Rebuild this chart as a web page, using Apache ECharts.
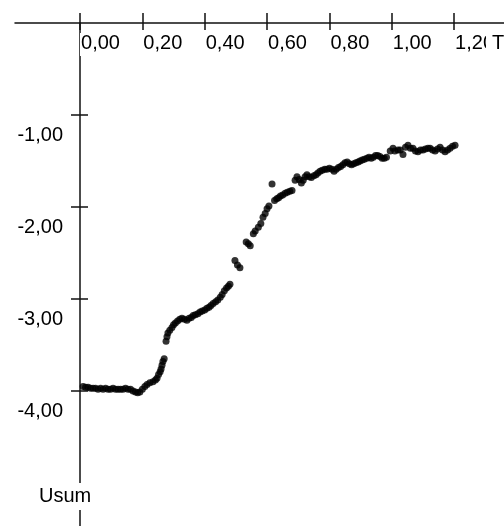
<!DOCTYPE html>
<html><head><meta charset="utf-8">
<script src="https://cdn.jsdelivr.net/npm/echarts@6/dist/echarts.min.js"></script>
<style>html,body{margin:0;padding:0;background:#fff}#c{width:504px;height:526px}</style>
</head><body><div id="c"></div>
<script>
const xTicks = [0, 0.2, 0.4, 0.6, 0.8, 1.0, 1.2];
const yTicks = [-1, -2, -3, -4];
const xName = 'T';
const yName = 'Usum';
const xValues = [
0.010,0.018,0.026,0.034,0.042,0.050,0.058,0.066,0.074,0.082,0.090,0.098,0.106,0.114,0.122,0.130,0.138,0.146,0.154,0.162,
0.170,0.178,0.185,0.192,0.200,0.208,0.215,0.224,0.234,0.242,0.247,0.252,0.257,0.260,0.263,0.266,0.270,
0.276,0.279,0.282,0.288,0.295,0.300,0.306,0.313,0.320,0.327,0.335,0.343,0.350,0.357,0.363,0.370,0.378,0.385,0.392,
0.400,0.407,0.414,0.420,0.427,0.435,0.442,0.450,0.456,0.463,0.470,0.476,0.481,
0.497,0.505,0.513,0.533,0.540,0.546,0.556,0.562,0.572,0.580,0.587,0.594,0.600,0.606,0.616,
0.624,0.631,0.637,0.643,0.650,0.658,0.665,0.673,0.680,0.690,0.696,0.703,0.710,0.716,0.722,0.728,0.735,0.742,0.750,
0.757,0.763,0.770,0.777,0.785,0.792,0.800,0.808,0.815,0.822,0.829,0.836,0.843,0.850,0.857,0.864,0.871,0.878,0.885,
0.892,0.898,0.905,0.912,0.920,0.927,0.934,0.941,0.948,0.955,0.962,0.969,0.976,0.983,0.995,1.004,1.010,1.020,1.027,
1.036,1.044,1.052,1.060,1.068,1.076,1.084,1.092,1.100,1.108,1.116,1.123,1.131,1.139,1.147,1.155,1.163,1.171,1.179,
1.187,1.195,1.203
];
const yValues = [
-3.95,-3.96,-3.96,-3.97,-3.97,-3.97,-3.98,-3.97,-3.98,-3.97,-3.98,-3.98,-3.97,-3.98,-3.98,-3.98,-3.98,-3.97,-3.98,-3.98,
-4.00,-4.01,-4.02,-4.01,-3.98,-3.95,-3.93,-3.91,-3.90,-3.88,-3.86,-3.82,-3.79,-3.76,-3.72,-3.68,-3.65,
-3.46,-3.41,-3.37,-3.34,-3.31,-3.28,-3.26,-3.24,-3.22,-3.21,-3.22,-3.23,-3.21,-3.20,-3.18,-3.17,-3.16,-3.14,-3.13,
-3.12,-3.10,-3.09,-3.07,-3.05,-3.03,-3.01,-2.98,-2.95,-2.91,-2.88,-2.86,-2.84,
-2.58,-2.63,-2.66,-2.38,-2.40,-2.42,-2.29,-2.26,-2.22,-2.18,-2.11,-2.07,-2.02,-1.99,-1.75,
-1.93,-1.91,-1.90,-1.88,-1.87,-1.85,-1.84,-1.83,-1.82,-1.71,-1.67,-1.70,-1.74,-1.71,-1.67,-1.65,-1.67,-1.68,-1.66,
-1.65,-1.63,-1.61,-1.60,-1.59,-1.59,-1.58,-1.59,-1.61,-1.59,-1.57,-1.56,-1.54,-1.52,-1.51,-1.53,-1.54,-1.53,-1.52,
-1.51,-1.50,-1.49,-1.48,-1.47,-1.46,-1.47,-1.46,-1.44,-1.44,-1.45,-1.47,-1.47,-1.46,-1.39,-1.36,-1.39,-1.38,-1.38,
-1.43,-1.35,-1.33,-1.36,-1.36,-1.39,-1.40,-1.38,-1.38,-1.37,-1.36,-1.36,-1.38,-1.39,-1.37,-1.35,-1.38,-1.40,-1.38,
-1.36,-1.34,-1.33
];
const data = xValues.map((x, i) => [x, yValues[i]]);
const FONT = '"Liberation Sans", Arial, sans-serif';
const FS = 20;
const fmt = v => v.toFixed(2).replace('.', ',');
const GRID_LEFT = 15, GRID_W = 489;
const X_MIN = -0.2085, X_MAX = 1.36, Y_MIN = -5.467, Y_MAX = 0;
// y axis sits at x = 0: shift it from the grid's left edge by the width of [X_MIN, 0]
const Y_OFFSET = -GRID_W * (0 - X_MIN) / (X_MAX - X_MIN);
const AX = '#111';

const chart = echarts.init(document.getElementById('c'), null, {renderer: 'canvas'});
chart.setOption({
  animation: false,
  backgroundColor: '#fff',
  grid: {left: GRID_LEFT, width: GRID_W, top: 23, bottom: 0, containLabel: false, outerBoundsMode: 'none'},
  xAxis: [
    {type: 'value', position: 'top', min: X_MIN, max: X_MAX, z: 5,
     axisLine: {onZero: false, lineStyle: {color: AX, width: 1.5}},
     axisTick: {show: true, inside: false, length: 10, customValues: xTicks, lineStyle: {color: AX, width: 1.5}},
     axisLabel: {inside: true, customValues: xTicks, align: 'left', margin: 10, color: '#000',
       fontFamily: FONT, fontSize: FS, backgroundColor: '#fff', padding: [0, 0, 3, 1], formatter: fmt},
     splitLine: {show: false}},
    {type: 'value', position: 'top', min: X_MIN, max: X_MAX, z: 6,
     axisLine: {show: false, onZero: false},
     axisTick: {show: true, inside: true, length: 7, customValues: xTicks, lineStyle: {color: AX, width: 1.5}},
     axisLabel: {show: false}, splitLine: {show: false}}
  ],
  yAxis: [
    {type: 'value', position: 'left', offset: Y_OFFSET, min: Y_MIN, max: Y_MAX, z: 3,
     axisLine: {onZero: false, lineStyle: {color: AX, width: 1.5}},
     axisTick: {show: true, inside: false, length: 9, customValues: yTicks, lineStyle: {color: AX, width: 1.5}},
     axisLabel: {customValues: yTicks, margin: 17, color: '#000', fontFamily: FONT, fontSize: FS,
       verticalAlign: 'top', padding: [10, 0, 0, 0], formatter: fmt},
     splitLine: {show: false}},
    {type: 'value', position: 'left', offset: Y_OFFSET, min: Y_MIN, max: Y_MAX, z: 3,
     axisLine: {show: false, onZero: false},
     axisTick: {show: true, inside: true, length: 8, customValues: yTicks, lineStyle: {color: AX, width: 1.5}},
     axisLabel: {show: false}, splitLine: {show: false}}
  ],
  graphic: [
    {type: 'text', left: 39, top: 483, z: 100,
     style: {text: yName, font: FS + 'px ' + FONT, fill: '#000', backgroundColor: '#fff', padding: [3, 2, 4, 0]}},
    {type: 'text', left: 486, top: 33, z: 100,
     style: {text: xName, font: FS + 'px ' + FONT, fill: '#000', backgroundColor: '#fff', padding: [0, 8, 3, 6]}}
  ],
  series: [{
    type: 'scatter', xAxisIndex: 0, yAxisIndex: 0, data: data,
    symbol: 'circle', symbolSize: 7, itemStyle: {color: '#000'}, z: 10
  }]
});
</script>
</body></html>
